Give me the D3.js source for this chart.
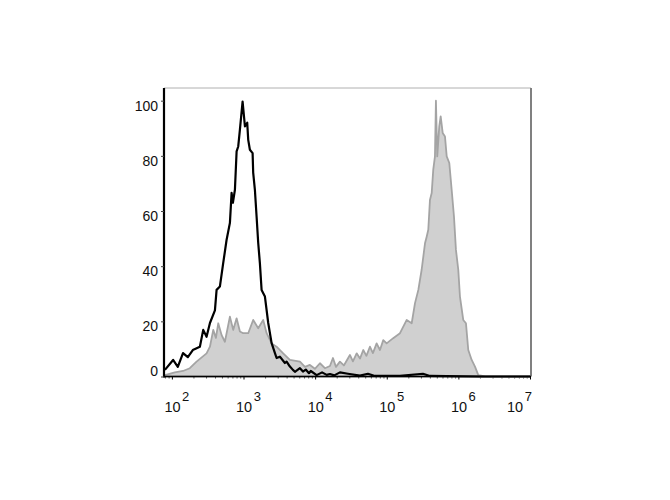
<!DOCTYPE html>
<html>
<head>
<meta charset="utf-8">
<script src="https://cdn.jsdelivr.net/npm/d3@7"></script>
<style>
  html, body { margin: 0; padding: 0; background: #fff; }
  svg text { font-family: "Liberation Sans", Arial, sans-serif; fill: #111; }
</style>
</head>
<body>
<svg id="chart" width="670" height="500"></svg>
<script>
// Fluorescence intensity (x) and % of max count (y)
const controlX = [80, 104, 121, 143, 167, 196, 246, 274, 305, 340, 399, 421, 468, 520, 580, 646, 682, 711, 759, 801, 844, 891, 971, 1047, 1127, 1164, 1228, 1340, 1365, 1442, 1523, 1604, 1694, 1789, 1991, 2214, 2468, 2747, 2897, 3221, 3784, 3998, 4446, 4897, 5224, 6139, 6761, 7400, 8200, 8700, 10500, 12500, 14500, 16100, 18500, 22200, 28700, 42300, 54600, 68400, 153000, 320000, 401000, 2000000, 10000000];
const controlY = [2.4, 6, 3.5, 8.5, 7, 9.6, 10.8, 16.9, 14.4, 19.4, 24, 31.4, 32.6, 41, 49.5, 55.7, 66.6, 63, 67.7, 81.6, 83.4, 89.5, 99.7, 90.7, 92, 85.8, 82.2, 81, 73.9, 67.7, 58, 48.5, 41, 31.4, 29, 19.4, 12.1, 8.5, 6.7, 7.2, 4.9, 5.4, 3.6, 2.4, 1.7, 3, 1.8, 2.5, 1.2, 2, 0.5, 1.5, 0.6, 0.9, 0.4, 1.5, 1, 0.3, 1, 0.2, 0.2, 1, 0.2, 0, 0];

const stainedX = [80, 110, 143, 178, 221, 305, 340, 378, 412, 444, 495, 550, 646, 718, 801, 891, 991, 1164, 1365, 1604, 1884, 2102, 2468, 2897, 3580, 4446, 6139, 7210, 8450, 9930, 11670, 13700, 16100, 17740, 19540, 22200, 25200, 30600, 33700, 38000, 42300, 47000, 52000, 58200, 64100, 72200, 80400, 89400, 99700, 123000, 153000, 190000, 223000, 248000, 276000, 307000, 342000, 361000, 380000, 401000, 424000, 446000, 471000, 486000, 507000, 541000, 566000, 604000, 650000, 687000, 747000, 806000, 868000, 925000, 997000, 1052000, 1170000, 1276000, 1375000, 1534000, 1706000, 1897000, 2354000, 10000000];
const stainedY = [0.5, 1.5, 2, 3, 5.4, 8.4, 10.8, 16.9, 14, 19.3, 15, 12.6, 21.7, 16.9, 21.1, 16.3, 15.7, 15.7, 20.5, 17.5, 20.5, 15.7, 12, 10.8, 8.4, 6, 5.4, 3.5, 4.2, 2.8, 4.8, 3, 3.8, 6.7, 3.5, 5.4, 4, 7.8, 5.5, 8.4, 6.5, 9.6, 7.5, 10.8, 8.5, 12, 9.6, 13.2, 12, 13.9, 15.7, 20.5, 19.3, 26.6, 31.4, 38.7, 48.3, 50.7, 53.2, 64, 66.5, 75, 79.8, 100, 79.8, 90.7, 94.3, 88.3, 87, 79.8, 77.4, 67.7, 58, 45.9, 38.7, 29, 20.5, 19.3, 9.6, 6, 3.6, 0.5, 0, 0];

const yTicks = [0, 20, 40, 60, 80, 100];
const xDecades = [2, 3, 4, 5, 6, 7];

const svg = d3.select("#chart");
const L = 164, R = 530, T = 88, B = 376.5;

const x = d3.scaleLog().domain([Math.pow(10, 1.89), 1e7]).range([L, R]);
const y = d3.scaleLinear().domain([0, 104.6]).range([B, T]);

const stained = stainedX.map((v, i) => [v, stainedY[i]]);
const control = controlX.map((v, i) => [v, controlY[i]]);

// filled stained histogram
svg.append("path")
  .datum(stained)
  .attr("d", d3.area().x(d => x(d[0])).y0(y(0)).y1(d => y(d[1])))
  .attr("fill", "#d0d0d0")
  .attr("stroke", "#a4a4a4")
  .attr("stroke-width", 1.8)
  .attr("stroke-linejoin", "round");

// control line
svg.append("path")
  .datum(control)
  .attr("d", d3.line().x(d => x(d[0])).y(d => y(d[1])))
  .attr("fill", "none")
  .attr("stroke", "#000")
  .attr("stroke-width", 2.2)
  .attr("stroke-linejoin", "round");

// frame top/right
svg.append("line").attr("x1", L).attr("x2", R + 1).attr("y1", T).attr("y2", T)
  .attr("stroke", "#b0b0b0").attr("stroke-width", 1);
svg.append("line").attr("x1", R + 1).attr("x2", R + 1).attr("y1", T).attr("y2", B)
  .attr("stroke", "#808080").attr("stroke-width", 2);

// x axis
const minorTicks = [];
for (let d = 1; d < 7; d++) for (let m = 2; m < 10; m++) {
  const v = m * Math.pow(10, d);
  if (v >= x.domain()[0] && v <= 1e7) minorTicks.push(v);
}
const xAxisG = svg.append("g").attr("transform", `translate(0,${B})`);
xAxisG.call(d3.axisBottom(x).tickValues(minorTicks).tickSize(2).tickFormat(""))
  .call(g => g.select(".domain").remove())
  .selectAll("line").attr("stroke", "#555");
const xMajor = svg.append("g").attr("transform", `translate(0,${B})`);
xMajor.call(d3.axisBottom(x).tickValues(xDecades.map(d => Math.pow(10, d))).tickSize(3).tickFormat(""))
  .call(g => g.select(".domain").attr("stroke", "#000").attr("stroke-width", 1.6).attr("d", `M${L},0H${R + 1}`));
xMajor.selectAll(".tick line").attr("stroke", "#000");

xDecades.forEach(d => {
  let cx = x(Math.pow(10, d));
  if (d === 7) cx = 514.5;
  const t = svg.append("text").attr("x", cx - 7.5).attr("y", 412).style("font-size", "14.5px");
  t.append("tspan").text("10");
  t.append("tspan").attr("dx", 1.5).attr("dy", -11).style("font-size", "13px").text(String(d));
});

// y axis
const yAxisG = svg.append("g").attr("transform", `translate(${L},0)`);
yAxisG.call(d3.axisLeft(y).tickValues(yTicks).tickSize(3).tickPadding(3))
  .call(g => g.select(".domain").attr("stroke", "#000").attr("stroke-width", 2.2).attr("d", `M0,${T}V${B + 1}`));
yAxisG.selectAll(".tick line").attr("stroke", "#444");
yAxisG.selectAll(".tick text")
  .style("font-size", "14px")
  .attr("font-family", "Liberation Sans, Arial, sans-serif")
  .attr("fill", "#111")
  .attr("dy", d => d === 0 ? "-0.05em" : "0.68em");
</script>
</body>
</html>
